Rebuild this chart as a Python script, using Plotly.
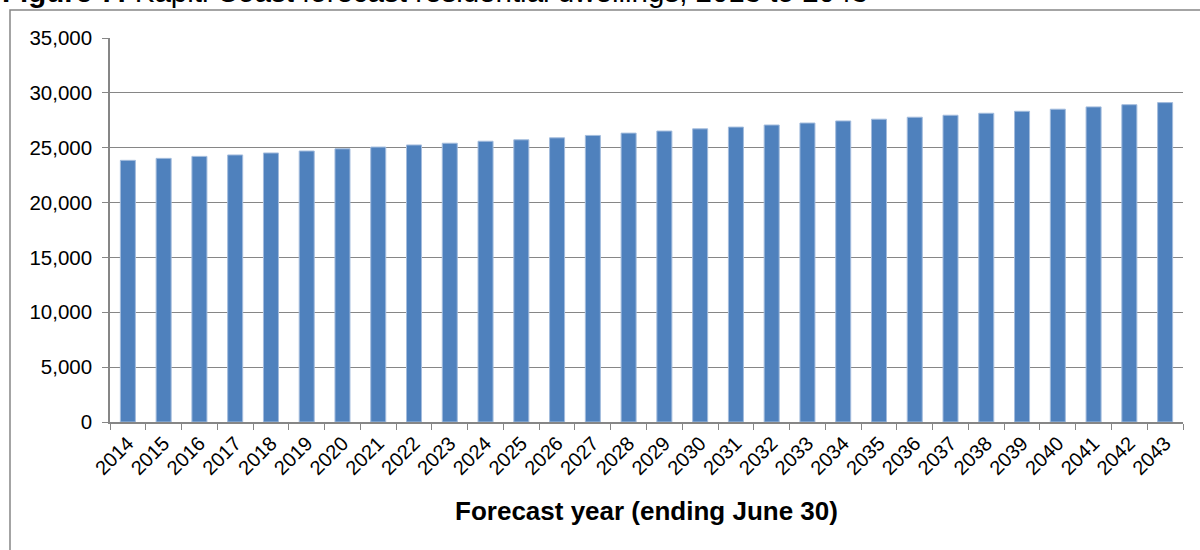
import plotly.graph_objects as go

# forecast years and dwelling counts
years = [str(y) for y in range(2014, 2044)]
dwellings = [
    23850, 24030, 24210, 24340, 24520, 24700, 24900, 25060, 25250, 25410,
    25590, 25720, 25900, 26120, 26330, 26520, 26720, 26880, 27070, 27250,
    27440, 27600, 27780, 27960, 28140, 28320, 28510, 28720, 28920, 29110,
]
y_ticks = [0, 5000, 10000, 15000, 20000, 25000, 30000, 35000]

title_text = "<b>Figure 7:</b> Kapiti Coast forecast residential dwellings, 2013 to 2043"
x_title = "Forecast year (ending June 30)"

FONT = "Liberation Sans, Arial, sans-serif"
GREY = "#868686"

fig = go.Figure(
    go.Bar(
        x=years,
        y=dwellings,
        marker=dict(color="#4F81BD", line=dict(color="#A3BCDD", width=1)),
        width=0.42,
    )
)

fig.update_layout(
    width=1200,
    height=550,
    margin=dict(l=110, r=17, t=38, b=128),
    paper_bgcolor="white",
    plot_bgcolor="white",
    showlegend=False,
    font=dict(family=FONT, color="black", size=20),
    xaxis=dict(
        type="category",
        tickangle=-45,
        tickson="boundaries",
        ticks="outside",
        ticklen=6,
        tickcolor=GREY,
        showline=True,
        linecolor=GREY,
        linewidth=1.5,
        showgrid=False,
        tickfont=dict(size=20),
        title=dict(text=f"<b>{x_title}</b>", font=dict(size=26), standoff=24),
    ),
    yaxis=dict(
        range=[0, 35000],
        tickvals=y_ticks,
        tickformat=",d",
        ticks="outside",
        ticklen=6,
        tickcolor=GREY,
        ticklabelstandoff=6,
        showline=True,
        linecolor=GREY,
        linewidth=1.5,
        showgrid=True,
        gridcolor=GREY,
        gridwidth=1.2,
        zeroline=False,
        tickfont=dict(size=20.5),
    ),
    # outer chart border, only left and top edges are visible in the frame
    shapes=[
        dict(
            type="rect",
            xref="paper",
            yref="paper",
            x0=-0.0932,
            x1=1.2,
            y0=-0.6,
            y1=1.0729,
            line=dict(color=GREY, width=1.5),
            fillcolor="rgba(0,0,0,0)",
            layer="below",
        )
    ],
    annotations=[
        dict(
            text=title_text,
            xref="paper",
            yref="paper",
            x=-0.1025,
            y=1.0729,
            xanchor="left",
            yanchor="bottom",
            showarrow=False,
            font=dict(size=29.5),
        )
    ],
)

# drop the browser's default body margin so the figure sits at the top-left corner
fig.write_html(
    "out.html",
    config={"displayModeBar": False},
    post_script="document.body.style.margin='0';",
)
